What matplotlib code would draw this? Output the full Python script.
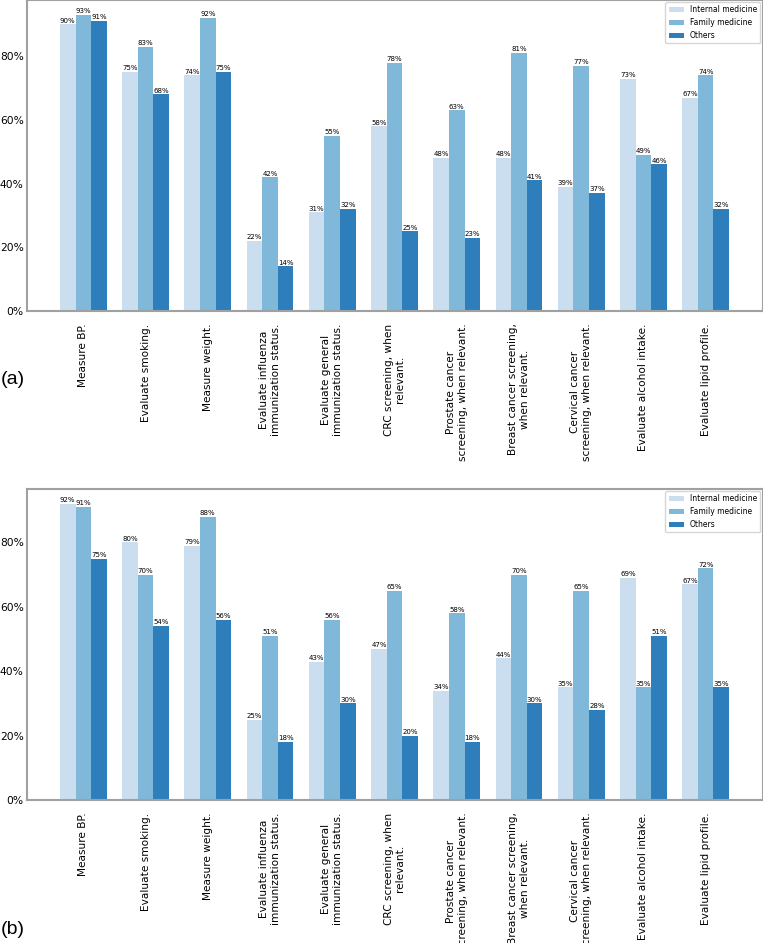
import numpy as np
import matplotlib
matplotlib.use("Agg")
import matplotlib.pyplot as plt
from matplotlib.ticker import FuncFormatter

# Data (percent)
tasks = ["Measure BP.", "Evaluate smoking.", "Measure weight.",
         "Evaluate influenza\nimmunization status.",
         "Evaluate general\nimmunization status.",
         "CRC screening, when\nrelevant.",
         "Prostate cancer\nscreening, when relevant.",
         "Breast cancer screening,\nwhen relevant.",
         "Cervical cancer\nscreening, when relevant.",
         "Evaluate alcohol intake.", "Evaluate lipid profile."]
groups = ["Internal medicine", "Family medicine", "Others"]

# panel (a)
a_internal = [90, 75, 74, 22, 31, 58, 48, 48, 39, 73, 67]
a_family = [93, 83, 92, 42, 55, 78, 63, 81, 77, 49, 74]
a_others = [91, 68, 75, 14, 32, 25, 23, 41, 37, 46, 32]

# panel (b)
b_internal = [92, 80, 79, 25, 43, 47, 34, 44, 35, 69, 67]
b_family = [91, 70, 88, 51, 56, 65, 58, 70, 65, 35, 72]
b_others = [75, 54, 56, 18, 30, 20, 18, 30, 28, 51, 35]

colors = ["#cbdef0", "#80b8da", "#2f7ebc"]
W, H = 763, 943


def draw_panel(ax, series):
    x = np.arange(len(tasks))
    width = 0.25
    for i, (vals, name) in enumerate(zip(series, groups)):
        bars = ax.bar(x + (i - 1) * width, vals, width, color=colors[i], label=name)
        ax.bar_label(bars, labels=[f"{v}%" for v in vals], fontsize=5, padding=0.5)
    ax.set_xticks(x)
    ax.set_xticklabels(tasks, rotation=90, fontsize=7.6, ha="center")
    ax.yaxis.set_major_formatter(FuncFormatter(lambda v, p: f"{v:.0f}%"))
    ax.set_yticks([0, 20, 40, 60, 80])
    ax.tick_params(axis="y", length=0, pad=2, labelsize=7.7)
    ax.tick_params(axis="x", length=0, pad=9)
    for s in ax.spines.values():
        s.set_color("#a0a0a0")
        s.set_linewidth(1.5)
    ax.legend(loc="upper right", fontsize=5.5, borderaxespad=0.3, edgecolor="#cccccc")


fig = plt.figure(figsize=(W / 100, H / 100), dpi=100)
ax1 = fig.add_axes([26.5 / W, 1 - 311 / H, 736 / W, 311 / H])
ax2 = fig.add_axes([26.5 / W, 1 - 800 / H, 736 / W, 311 / H])

draw_panel(ax1, [a_internal, a_family, a_others])
draw_panel(ax2, [b_internal, b_family, b_others])

fig.text(1 / W, 1 - 380 / H, "(a)", fontsize=14, family="Liberation Sans", va="center", ha="left")
fig.text(1 / W, 1 - 930 / H, "(b)", fontsize=14, family="Liberation Sans", va="center", ha="left")

fig.savefig("out.png", dpi=100)
